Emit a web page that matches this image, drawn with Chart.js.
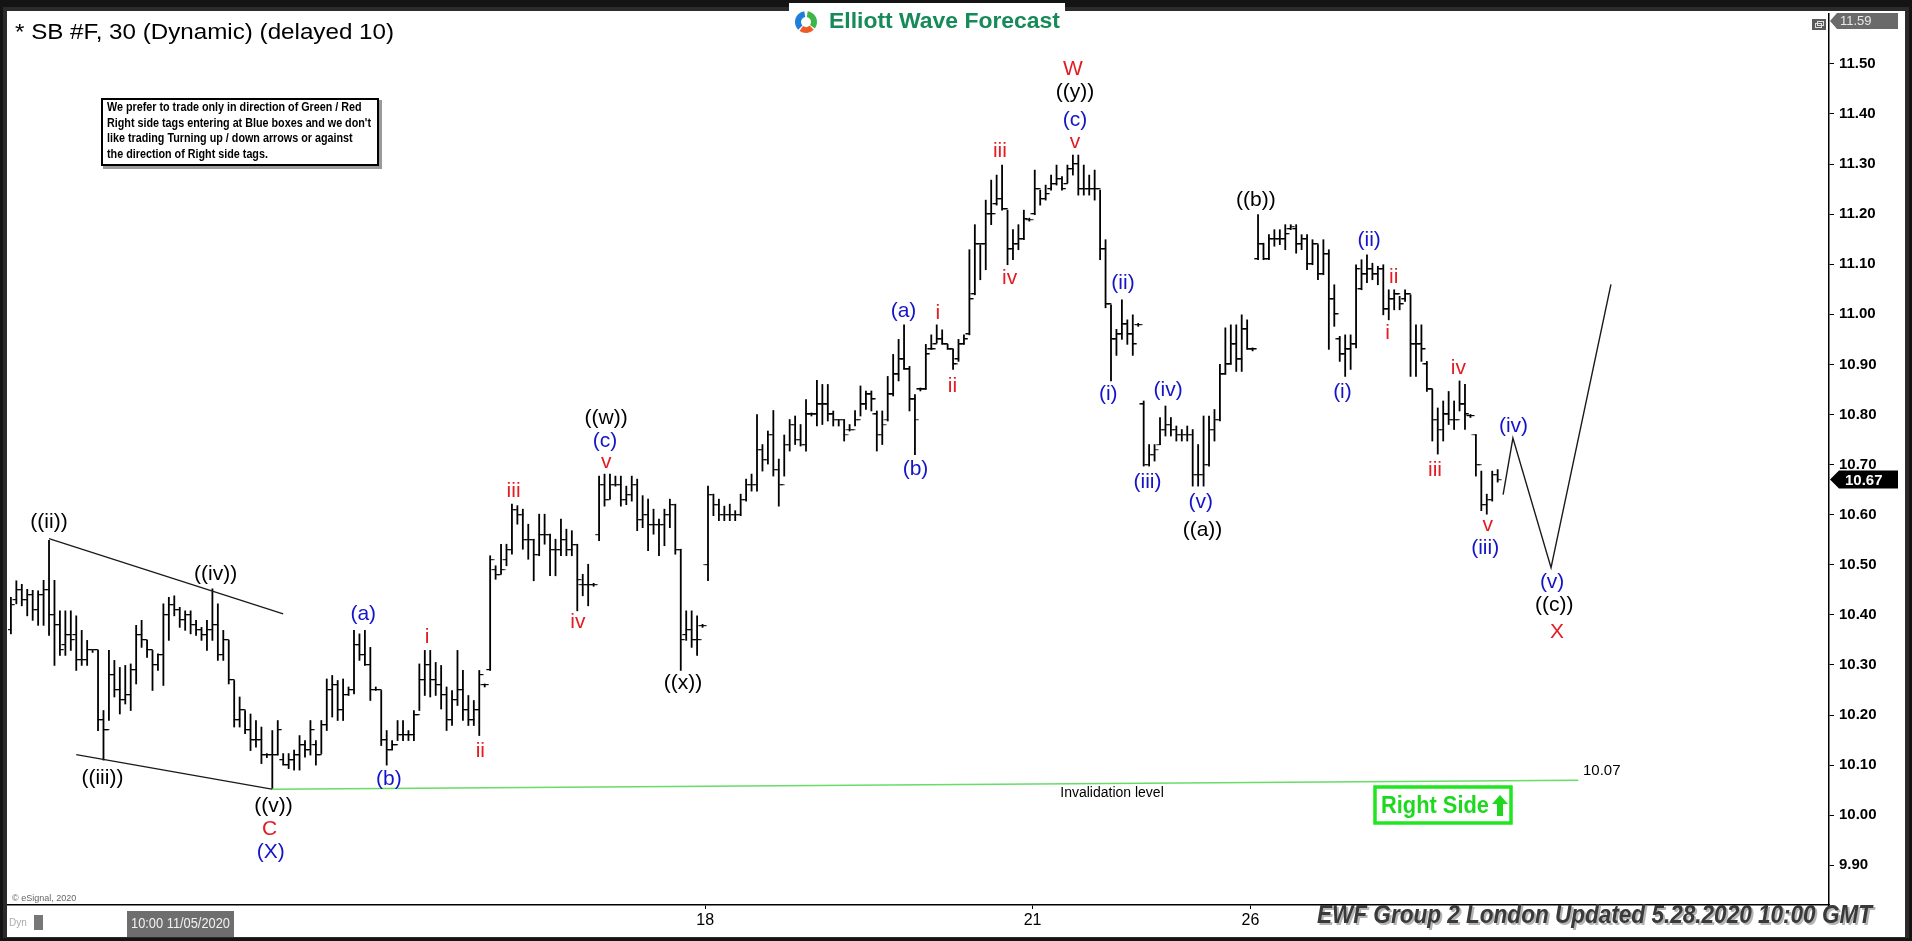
<!DOCTYPE html>
<html><head><meta charset="utf-8">
<script src="https://cdn.jsdelivr.net/npm/chart.js@4.4.1/dist/chart.umd.min.js"></script>
<style>html,body{margin:0;padding:0;background:#141414;overflow:hidden}canvas{display:block}</style>
</head><body>
<canvas id="c" width="1912" height="941"></canvas>
<script>
// ---- DATA (30-min bars, SB #F) ----
const highs = [
10.435,10.468,10.461,10.451,10.449,10.448,10.469,10.549,10.469,10.408,
10.408,10.408,10.398,10.369,10.349,10.329,10.329,10.209,10.329,10.309,
10.295,10.299,10.302,10.379,10.389,10.349,10.329,10.322,10.422,10.435,
10.438,10.415,10.408,10.408,10.389,10.375,10.389,10.452,10.422,10.369,
10.349,10.269,10.236,10.209,10.202,10.189,10.176,10.123,10.169,10.189,
10.123,10.123,10.130,10.159,10.149,10.189,10.149,10.189,10.272,10.279,
10.269,10.272,10.256,10.369,10.362,10.369,10.335,10.256,10.249,10.169,
10.149,10.189,10.189,10.169,10.209,10.302,10.329,10.329,10.305,10.299,
10.256,10.249,10.329,10.289,10.239,10.229,10.289,10.262,10.518,10.498,
10.541,10.541,10.621,10.618,10.611,10.581,10.551,10.601,10.601,10.561,
10.551,10.591,10.571,10.568,10.541,10.481,10.501,10.463,10.677,10.681,
10.681,10.677,10.677,10.657,10.677,10.671,10.638,10.631,10.611,10.591,
10.611,10.631,10.621,10.531,10.408,10.408,10.398,10.381,10.657,10.641,
10.631,10.617,10.621,10.608,10.641,10.671,10.681,10.800,10.740,10.767,
10.808,10.711,10.759,10.790,10.797,10.780,10.830,10.803,10.868,10.860,
10.860,10.807,10.790,10.790,10.780,10.808,10.857,10.847,10.847,10.807,
10.807,10.876,10.920,10.950,10.979,10.896,10.840,10.853,10.940,10.959,
10.979,10.969,10.940,10.930,10.950,10.959,11.129,11.179,11.139,11.228,
11.268,11.278,11.298,11.208,11.169,11.179,11.208,11.192,11.288,11.248,
11.258,11.278,11.298,11.275,11.298,11.318,11.318,11.298,11.278,11.288,
11.248,11.149,11.019,10.970,11.029,10.989,10.999,10.982,10.827,10.740,
10.740,10.794,10.817,10.794,10.777,10.770,10.777,10.770,10.740,10.797,
10.797,10.810,10.900,10.973,10.979,10.979,10.999,10.989,10.933,11.199,
11.142,11.159,11.169,11.169,11.179,11.179,11.179,11.159,11.159,11.149,
11.139,11.149,11.129,11.059,10.956,10.959,10.959,11.099,11.109,11.119,
11.102,11.096,11.099,11.049,11.049,11.036,11.049,11.039,10.979,10.979,
10.906,10.850,10.813,10.827,10.846,10.827,10.867,10.860,10.800,10.760,
10.687,10.641,10.687,10.690];
const lows = [
10.362,10.422,10.418,10.398,10.389,10.379,10.379,10.359,10.299,10.319,
10.319,10.329,10.289,10.299,10.299,10.325,10.169,10.110,10.189,10.236,
10.202,10.222,10.209,10.262,10.335,10.315,10.249,10.289,10.259,10.349,
10.398,10.375,10.369,10.362,10.359,10.349,10.329,10.349,10.309,10.309,
10.262,10.176,10.176,10.163,10.129,10.136,10.103,10.115,10.052,10.120,
10.100,10.093,10.090,10.090,10.116,10.120,10.100,10.123,10.169,10.196,
10.189,10.189,10.239,10.242,10.309,10.299,10.229,10.249,10.139,10.100,
10.130,10.149,10.149,10.149,10.149,10.209,10.239,10.236,10.239,10.212,
10.169,10.179,10.219,10.189,10.179,10.179,10.159,10.256,10.289,10.471,
10.481,10.498,10.521,10.581,10.531,10.511,10.468,10.518,10.541,10.478,
10.478,10.518,10.518,10.518,10.408,10.438,10.418,10.457,10.548,10.617,
10.631,10.657,10.617,10.620,10.627,10.568,10.574,10.528,10.561,10.518,
10.538,10.574,10.521,10.289,10.349,10.335,10.319,10.375,10.468,10.598,
10.588,10.588,10.588,10.588,10.598,10.627,10.647,10.647,10.687,10.701,
10.677,10.617,10.677,10.727,10.740,10.737,10.727,10.797,10.777,10.780,
10.787,10.777,10.777,10.747,10.767,10.777,10.797,10.810,10.807,10.727,
10.740,10.787,10.837,10.867,10.890,10.807,10.720,10.847,10.850,10.930,
10.943,10.940,10.930,10.890,10.906,10.940,10.959,11.039,11.069,11.089,
11.179,11.218,11.208,11.099,11.109,11.129,11.149,11.186,11.199,11.218,
11.228,11.248,11.258,11.248,11.262,11.278,11.238,11.238,11.238,11.228,
11.109,11.013,10.867,10.918,10.950,10.940,10.918,10.976,10.697,10.697,
10.707,10.740,10.757,10.757,10.747,10.747,10.747,10.657,10.657,10.657,
10.697,10.747,10.787,10.880,10.900,10.886,10.886,10.930,10.927,11.109,
11.109,11.109,11.136,11.139,11.129,11.169,11.122,11.129,11.089,11.099,
11.069,11.079,10.930,10.976,10.906,10.876,10.890,10.933,11.049,11.063,
11.069,11.059,10.999,10.989,11.009,11.009,11.026,10.876,10.876,10.906,
10.846,10.747,10.721,10.747,10.780,10.770,10.807,10.770,10.794,10.677,
10.608,10.601,10.627,10.665];
const opens = [
10.37,10.43,10.45,10.43,10.44,10.41,10.44,10.45,10.40,10.38,
10.34,10.36,10.36,10.31,10.31,10.33,10.33,10.19,10.17,10.28,
10.25,10.23,10.24,10.29,10.36,10.35,10.33,10.30,10.32,10.40,
10.42,10.41,10.39,10.40,10.38,10.37,10.36,10.37,10.38,10.32,
10.35,10.27,10.19,10.21,10.17,10.15,10.15,10.12,10.12,10.12,
10.11,10.10,10.11,10.12,10.14,10.13,10.14,10.12,10.18,10.25,
10.26,10.21,10.24,10.25,10.34,10.32,10.30,10.25,10.25,10.15,
10.13,10.14,10.16,10.16,10.16,10.20,10.27,10.30,10.27,10.26,
10.24,10.19,10.23,10.25,10.21,10.19,10.21,10.26,10.29,10.49,
10.48,10.51,10.53,10.61,10.60,10.55,10.55,10.52,10.56,10.56,
10.53,10.53,10.55,10.53,10.54,10.46,10.46,10.46,10.56,10.66,
10.63,10.66,10.66,10.63,10.64,10.66,10.59,10.60,10.58,10.58,
10.58,10.60,10.62,10.53,10.36,10.37,10.35,10.378,10.50,10.64,
10.62,10.60,10.60,10.60,10.60,10.63,10.66,10.66,10.73,10.71,
10.76,10.69,10.66,10.74,10.78,10.75,10.74,10.80,10.80,10.82,
10.82,10.80,10.79,10.79,10.77,10.77,10.79,10.82,10.84,10.80,
10.76,10.79,10.84,10.88,10.91,10.89,10.83,10.85,10.85,10.93,
10.94,10.95,10.94,10.93,10.91,10.94,10.96,11.04,11.14,11.14,
11.20,11.22,11.23,11.21,11.13,11.14,11.15,11.189,11.20,11.25,
11.23,11.25,11.26,11.27,11.26,11.29,11.30,11.25,11.25,11.25,
11.25,11.13,11.02,10.95,10.96,10.98,10.96,10.979,10.82,10.70,
10.72,10.74,10.77,10.78,10.77,10.76,10.76,10.76,10.68,10.68,
10.70,10.77,10.79,10.88,10.90,10.94,10.91,10.97,10.93,11.11,
11.14,11.11,11.15,11.15,11.15,11.17,11.17,11.14,11.15,11.10,
11.14,11.08,11.12,11.03,10.95,10.92,10.93,10.94,11.05,11.08,
11.09,11.08,11.09,11.01,11.03,11.04,11.03,11.04,10.94,10.94,
10.90,10.85,10.79,10.77,10.80,10.79,10.79,10.82,10.797,10.76,
10.70,10.62,10.63,10.68];
const closes = [
10.42,10.45,10.43,10.44,10.41,10.44,10.45,10.40,10.38,10.33,
10.36,10.35,10.31,10.31,10.33,10.33,10.19,10.17,10.28,10.25,
10.23,10.24,10.29,10.36,10.35,10.33,10.30,10.32,10.40,10.42,
10.41,10.39,10.40,10.38,10.37,10.36,10.37,10.38,10.32,10.35,
10.27,10.19,10.21,10.17,10.15,10.15,10.12,10.12,10.12,10.17,
10.10,10.11,10.12,10.14,10.13,10.17,10.12,10.18,10.25,10.26,
10.21,10.24,10.25,10.34,10.32,10.30,10.25,10.25,10.15,10.13,
10.14,10.16,10.16,10.16,10.20,10.27,10.30,10.27,10.26,10.24,
10.19,10.23,10.25,10.21,10.19,10.21,10.28,10.26,10.51,10.48,
10.49,10.53,10.61,10.60,10.55,10.55,10.52,10.56,10.56,10.53,
10.53,10.55,10.53,10.54,10.47,10.46,10.46,10.46,10.66,10.63,
10.66,10.66,10.63,10.64,10.66,10.59,10.60,10.58,10.58,10.58,
10.60,10.62,10.53,10.35,10.37,10.35,10.35,10.378,10.64,10.62,
10.60,10.60,10.60,10.60,10.63,10.66,10.66,10.73,10.71,10.76,
10.69,10.66,10.74,10.78,10.75,10.74,10.80,10.80,10.82,10.82,
10.80,10.79,10.79,10.76,10.77,10.79,10.82,10.84,10.83,10.76,
10.78,10.84,10.88,10.91,10.89,10.83,10.79,10.85,10.92,10.93,
10.95,10.94,10.93,10.90,10.94,10.95,11.03,11.14,11.14,11.20,
11.20,11.23,11.21,11.13,11.14,11.15,11.19,11.189,11.25,11.23,
11.24,11.26,11.27,11.25,11.29,11.30,11.25,11.25,11.25,11.25,
11.13,11.02,10.95,10.96,10.98,10.96,10.94,10.979,10.70,10.72,
10.73,10.77,10.78,10.77,10.76,10.76,10.76,10.68,10.68,10.70,
10.77,10.79,10.88,10.90,10.94,10.91,10.97,10.93,10.93,11.14,
11.11,11.15,11.15,11.15,11.16,11.175,11.14,11.15,11.10,11.14,
11.08,11.12,11.03,11.00,10.92,10.93,10.94,11.09,11.08,11.09,
11.08,11.09,11.01,11.03,11.04,11.02,11.04,10.94,10.94,10.93,
10.85,10.79,10.77,10.80,10.79,10.79,10.82,10.80,10.797,10.70,
10.62,10.63,10.68,10.67];

const priceTicks = [9.9,10.0,10.1,10.2,10.3,10.4,10.5,10.6,10.7,10.8,10.9,11.0,11.1,11.2,11.3,11.4,11.5];
const dayTickPos = [127.5, 187.6, 227.6];
const dayTickLabels = ['18', '21', '26'];
const scaleTop = 11.59;
const invalidationLevel = 10.07;

// overlay lines (bar index, price)
const upperWedge = [[7.0,10.552],[50.0,10.402]];
const lowerWedge = [[12.0,10.121],[47.9,10.052]];
const invalidationLine = [[47.9,10.052],[287.8,10.07]];
const projection = [[274.0,10.64],[275.8,10.753],[282.8,10.494],[293.8,11.06]];

// wave labels: text, bar index, price, colour key
const waveLabels = [
['((ii))',7.0,10.584,'k'],['((iii))',16.8,10.074,'k'],['((iv))',37.6,10.482,'k'],
['((v))',48.2,10.018,'k'],['C',47.5,9.972,'r'],['(X)',47.7,9.926,'b'],
['(a)',64.7,10.402,'b'],['(b)',69.4,10.071,'b'],['i',76.4,10.356,'r'],
['ii',86.2,10.127,'r'],['iii',92.3,10.647,'r'],['iv',104.1,10.385,'r'],
['((w))',109.3,10.793,'k'],['(c)',109.1,10.747,'b'],['v',109.3,10.705,'r'],
['((x))',123.4,10.263,'k'],['(a)',163.9,11.007,'b'],['i',170.2,11.002,'r'],
['ii',172.9,10.856,'r'],['(b)',166.1,10.691,'b'],['iii',181.6,11.325,'r'],
['iv',183.4,11.072,'r'],['W',195.0,11.490,'r'],['((y))',195.4,11.444,'k'],
['(c)',195.4,11.388,'b'],['v',195.4,11.344,'r'],['(ii)',204.2,11.062,'b'],
['(i)',201.5,10.841,'b'],['(iv)',212.5,10.849,'b'],['(iii)',208.7,10.664,'b'],
['(v)',218.5,10.625,'b'],['((a))',218.8,10.569,'k'],['((b))',228.6,11.227,'k'],
['(ii)',249.4,11.147,'b'],['ii',253.9,11.075,'r'],['i',252.8,10.963,'r'],
['(i)',244.5,10.844,'b'],['iv',265.8,10.892,'r'],['iii',261.5,10.688,'r'],
['v',271.2,10.579,'r'],['(iii)',270.7,10.533,'b'],['(iv)',275.9,10.776,'b'],
['(v)',283.0,10.465,'b'],['((c))',283.4,10.419,'k'],['X',283.9,10.365,'r']
];
const noteLines = ['We prefer to trade only in direction of Green / Red',
"Right side tags entering at Blue boxes and we don't",
'like trading Turning up / down arrows or against',
'the direction of Right side tags.'];

// ---- RENDER ----
const FONT = "'Liberation Sans', Arial, Helvetica, sans-serif";
const COL = {k:'#000000', r:'#e41b23', b:'#1414c8'};

function tickImg(side){
  const c = document.createElement('canvas'); c.width = 9; c.height = 2;
  const g = c.getContext('2d'); g.fillStyle = '#000';
  if (side === 'L') g.fillRect(0.5,0,4.2,1.2); else g.fillRect(4.3,0,4.2,1.2);
  return c;
}
const openImg = tickImg('L'), closeImg = tickImg('R');

function pts(arr){ return arr.map(p => ({x:p[0], y:p[1]})); }

function fitText(ctx, txt, x, y, w, font, color, align){
  ctx.save(); ctx.font = font; ctx.fillStyle = color; ctx.textBaseline = 'middle';
  const m = ctx.measureText(txt).width; const s = w / m;
  ctx.translate(x, y); ctx.scale(s, 1); ctx.textAlign = align || 'left';
  ctx.fillText(txt, 0, 0); ctx.restore();
}

const framePlugin = {
  id: 'frame',
  beforeDraw(chart){
    const ctx = chart.ctx;
    ctx.save();
    ctx.fillStyle = '#141414'; ctx.fillRect(0,0,1912,941);
    ctx.fillStyle = '#2b2b2b'; ctx.fillRect(3,7,1906,931);
    ctx.fillStyle = '#ffffff'; ctx.fillRect(7,11,1898,926);
    ctx.restore();
  },
  afterDraw(chart){
    const ctx = chart.ctx, xs = chart.scales.x, ys = chart.scales.y;
    const X = v => xs.getPixelForValue(v), Y = v => ys.getPixelForValue(v);
    ctx.save();
    // wave labels
    ctx.textAlign = 'center'; ctx.textBaseline = 'middle';
    ctx.font = '21px ' + FONT;
    waveLabels.forEach(l => { ctx.fillStyle = COL[l[3]]; ctx.fillText(l[0], X(l[1]), Y(l[2])); });

    // title
    fitText(ctx, '* SB #F, 30 (Dynamic) (delayed 10)', 15, 33, 379, '22px ' + FONT, '#000', 'left');

    // note box
    ctx.fillStyle = '#9a9a9a'; ctx.fillRect(103, 100, 279, 69);
    ctx.fillStyle = '#fff'; ctx.fillRect(101, 98, 278, 68);
    ctx.strokeStyle = '#000'; ctx.lineWidth = 2; ctx.strokeRect(102, 99, 276, 66);
    ctx.font = 'bold 12px ' + FONT;
    const maxW = Math.max(...noteLines.map(t => ctx.measureText(t).width));
    const sc = 264 / maxW;
    noteLines.forEach((t, i) => {
      ctx.save(); ctx.translate(107, 108 + i * 15.5); ctx.scale(sc, 1);
      ctx.fillStyle = '#000'; ctx.textAlign = 'left'; ctx.textBaseline = 'middle';
      ctx.fillText(t, 0, 0); ctx.restore();
    });

    // logo
    ctx.fillStyle = '#fff'; ctx.fillRect(789, 3, 276, 38);
    const cx = 806, cy = 22;
    ctx.lineWidth = 6;
    [['#1e7fd8', Math.PI*0.75, Math.PI*1.45], ['#3db54a', Math.PI*1.55, Math.PI*2.2], ['#f05a28', Math.PI*0.25, Math.PI*0.7]].forEach(a => {
      ctx.strokeStyle = a[0]; ctx.beginPath(); ctx.arc(cx, cy, 8, a[1], a[2]); ctx.stroke();
    });
    fitText(ctx, 'Elliott Wave Forecast', 829, 22, 231, 'bold 22px ' + FONT, '#168a58', 'left');

    // top-right small icon
    ctx.fillStyle = '#5a5a5a'; ctx.fillRect(1812, 19, 14, 11);
    ctx.strokeStyle = '#ddd'; ctx.lineWidth = 1; ctx.strokeRect(1815.5, 23.5, 6, 4); ctx.strokeRect(1817.5, 21.5, 6, 4);

    // scale-top grey box
    ctx.fillStyle = '#6a6a6a';
    ctx.beginPath(); ctx.moveTo(1830, 21); ctx.lineTo(1837, 13); ctx.lineTo(1898, 13); ctx.lineTo(1898, 29); ctx.lineTo(1837, 29); ctx.closePath(); ctx.fill();
    ctx.fillStyle = '#e8e8e8'; ctx.font = '13px ' + FONT; ctx.textAlign = 'left'; ctx.textBaseline = 'middle';
    ctx.fillText(scaleTop.toFixed(2), 1840, 21.5);

    // last price box
    const last = closes[closes.length - 1]; const ly = Y(last);
    ctx.fillStyle = '#000';
    ctx.beginPath(); ctx.moveTo(1830, ly); ctx.lineTo(1839, ly - 9); ctx.lineTo(1898, ly - 9); ctx.lineTo(1898, ly + 9); ctx.lineTo(1839, ly + 9); ctx.closePath(); ctx.fill();
    ctx.fillStyle = '#fff'; ctx.font = 'bold 15px ' + FONT; ctx.fillText(last.toFixed(2), 1845, ly + 1);

    // invalidation texts
    ctx.fillStyle = '#000'; ctx.font = '14px ' + FONT; ctx.textAlign = 'center';
    ctx.fillText('Invalidation level', 1112, 793);
    ctx.textAlign = 'left'; ctx.font = '15px ' + FONT;
    ctx.fillText(invalidationLevel.toFixed(2), 1583, 771);

    // Right Side box
    ctx.strokeStyle = '#22e522'; ctx.lineWidth = 3.5; ctx.strokeRect(1375, 787, 136, 36);
    fitText(ctx, 'Right Side', 1381, 806, 108, 'bold 24px ' + FONT, '#1ed81e', 'left');
    ctx.fillStyle = '#1ed81e';
    ctx.beginPath(); ctx.moveTo(1500, 795); ctx.lineTo(1508, 804); ctx.lineTo(1503, 804); ctx.lineTo(1503, 816);
    ctx.lineTo(1497, 816); ctx.lineTo(1497, 804); ctx.lineTo(1492, 804); ctx.closePath(); ctx.fill();

    // bottom texts
    ctx.fillStyle = '#666'; ctx.font = '9px ' + FONT; ctx.textAlign = 'left'; ctx.fillText('\u00a9 eSignal, 2020', 12, 899);
    ctx.fillStyle = '#aaa'; ctx.font = '10px ' + FONT; ctx.fillText('Dyn', 9, 923);
    ctx.fillStyle = '#777'; ctx.fillRect(34, 915, 9, 15);
    ctx.fillStyle = '#6e6e6e'; ctx.fillRect(127, 911, 107, 26);
    fitText(ctx, '10:00 11/05/2020', 131, 924, 99, '15px ' + FONT, '#f2f2f2', 'left');
    fitText(ctx, 'EWF Group 2 London Updated 5.28.2020 10:00 GMT', 1319, 918, 555, 'italic bold 25px ' + FONT, '#b4b4b4', 'left');
    fitText(ctx, 'EWF Group 2 London Updated 5.28.2020 10:00 GMT', 1317, 916, 555, 'italic bold 25px ' + FONT, '#3a3a3a', 'left');
    ctx.restore();
  }
};

const lineDs = (data, color, w) => ({type:'scatter', data: pts(data), showLine: true, borderColor: color, borderWidth: w, pointRadius: 0, fill: false, order: 1});

new Chart(document.getElementById('c'), {
  type: 'bar',
  data: {
    datasets: [
      {type:'bar', data: highs.map((h, i) => ({x: i, y: [lows[i], h]})), backgroundColor: '#000', borderWidth: 0, barThickness: 1.15, order: 3},
      {type:'scatter', data: opens.map((o, i) => ({x: i, y: o})), pointStyle: openImg, pointRadius: 2, order: 2},
      {type:'scatter', data: closes.map((c, i) => ({x: i, y: c})), pointStyle: closeImg, pointRadius: 2, order: 2},
      lineDs(upperWedge, '#1a1a1a', 1.3),
      lineDs(lowerWedge, '#1a1a1a', 1.3),
      lineDs(invalidationLine, '#66dd66', 1.5),
      lineDs(projection, '#1a1a1a', 1.4)
    ]
  },
  options: {
    responsive: false, animation: false, devicePixelRatio: 1,
    layout: {padding: {left: 8, top: 12, right: 7, bottom: 5}},
    plugins: {legend: {display: false}, tooltip: {enabled: false}},
    scales: {
      x: {
        type: 'linear', min: -0.533, max: 333.84, offset: false,
        afterBuildTicks: s => { s.ticks = dayTickPos.map(v => ({value: v})); },
        afterFit: s => { s.height = 31; },
        ticks: {autoSkip: false, maxRotation: 0, padding: 2, color: '#000', font: {family: FONT, size: 16},
          callback: (v, i) => dayTickLabels[i]},
        grid: {drawOnChartArea: false, drawTicks: true, tickLength: 4, color: '#000', offset: false},
        border: {display: true, color: '#000', width: 1.5}
      },
      y: {
        type: 'linear', position: 'right', min: 9.8207, max: 11.5996,
        afterBuildTicks: s => { s.ticks = priceTicks.map(v => ({value: v})); },
        afterFit: s => { s.width = 76; },
        ticks: {padding: 5, color: '#000', font: {family: FONT, size: 15, weight: 'bold'}, callback: v => Number(v).toFixed(2)},
        grid: {drawOnChartArea: false, drawTicks: true, tickLength: 5, color: '#000'},
        border: {display: true, color: '#000', width: 1.5}
      }
    }
  },
  plugins: [framePlugin]
});
</script>
</body></html>
